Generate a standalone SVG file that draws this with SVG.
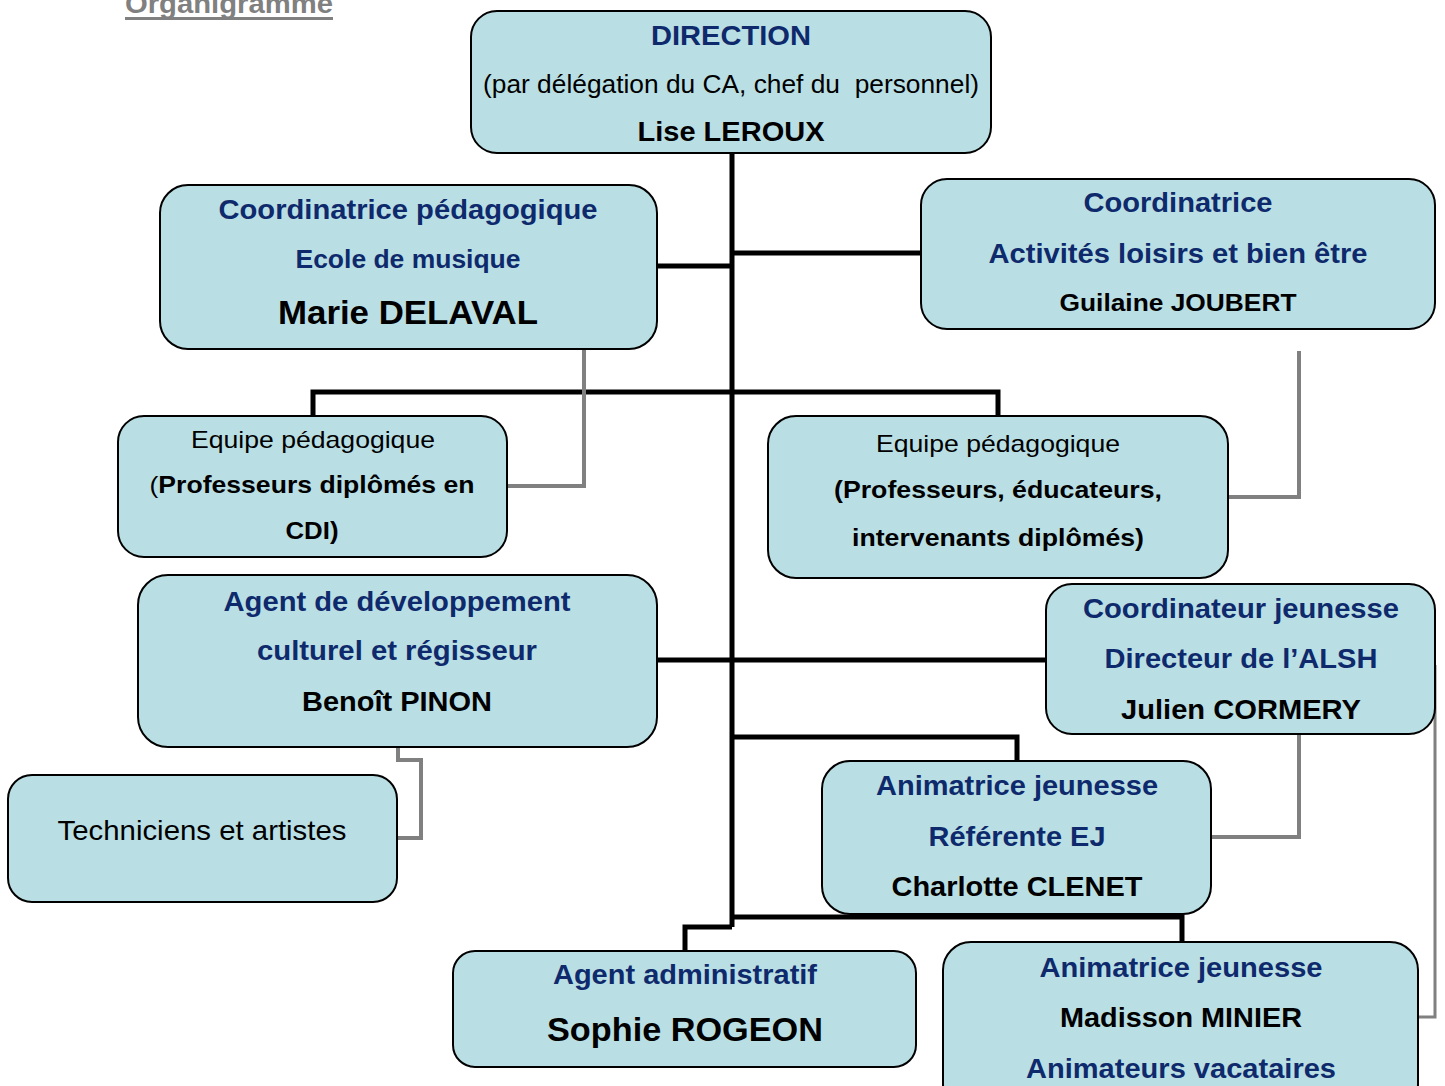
<svg xmlns="http://www.w3.org/2000/svg" width="1445" height="1086" viewBox="0 0 1445 1086">
<style>
.box{fill:#B9DFE4;stroke:#000;stroke-width:2}
text{font-family:"Liberation Sans",Arial,sans-serif;text-anchor:middle}
.nv{fill:#0E2A6C;font-weight:bold}
.bk{fill:#000;font-weight:bold}
.rg{fill:#000;font-weight:normal}
.blk{fill:none;stroke:#000;stroke-width:5}
.gry{fill:none;stroke:#808080;stroke-width:4}
.gryt{fill:none;stroke:#808080;stroke-width:3}
</style>
<rect width="1445" height="1086" fill="#fff"/>
<g id="title">
<text x="229" y="13" font-size="28" font-weight="bold" fill="#808080" textLength="208" lengthAdjust="spacingAndGlyphs">Organigramme</text>
<rect x="125" y="17" width="208" height="3" fill="#808080"/>
</g>
<g id="connectors">
<path class="blk" d="M732,153 V927"/>
<path class="blk" d="M657,266 H732"/>
<path class="blk" d="M732,253 H921"/>
<path class="blk" d="M313,416 V392 H998 V416"/>
<path class="blk" d="M657,660 H1046"/>
<path class="blk" d="M732,737 H1017 V761"/>
<path class="blk" d="M732,917 H1182 V942"/>
<path class="blk" d="M732,927 H685 V951"/>
<path class="gry" d="M584,338 V486 H507"/>
<path class="gry" d="M1299,351 V497 H1228"/>
<path class="gry" d="M398,747 V760 H421 V838 H397"/>
<path class="gry" d="M1299,727 V837 H1211"/>
<path class="gryt" d="M1435,665 V1017 H1418"/>
</g>
<g id="direction">
<rect class="box" x="471" y="11" width="520" height="142" rx="26"/>
<text class="nv" x="731" y="45" font-size="28" textLength="160" lengthAdjust="spacingAndGlyphs">DIRECTION</text>
<text class="rg" x="731" y="93" font-size="25" textLength="496" lengthAdjust="spacingAndGlyphs">(par délégation du CA, chef du&#160; personnel)</text>
<text class="bk" x="731" y="141" font-size="27" textLength="187" lengthAdjust="spacingAndGlyphs">Lise LEROUX</text>
</g>
<g id="coord-peda">
<rect class="box" x="160" y="185" width="497" height="164" rx="28"/>
<text class="nv" x="408" y="219" font-size="28" textLength="379" lengthAdjust="spacingAndGlyphs">Coordinatrice pédagogique</text>
<text class="nv" x="408" y="268" font-size="25" textLength="225" lengthAdjust="spacingAndGlyphs">Ecole de musique</text>
<text class="bk" x="408" y="324" font-size="33" textLength="260" lengthAdjust="spacingAndGlyphs">Marie DELAVAL</text>
</g>
<g id="coord-loisirs">
<rect class="box" x="921" y="179" width="514" height="150" rx="26"/>
<text class="nv" x="1178" y="212" font-size="28" textLength="189" lengthAdjust="spacingAndGlyphs">Coordinatrice</text>
<text class="nv" x="1178" y="263" font-size="28" textLength="379" lengthAdjust="spacingAndGlyphs">Activités loisirs et bien être</text>
<text class="bk" x="1178" y="311" font-size="24" textLength="237" lengthAdjust="spacingAndGlyphs">Guilaine JOUBERT</text>
</g>
<g id="equipe-gauche">
<rect class="box" x="118" y="416" width="389" height="141" rx="26"/>
<text class="rg" x="313" y="448" font-size="24" textLength="244" lengthAdjust="spacingAndGlyphs">Equipe pédagogique</text>
<text class="rg" x="312" y="493" font-size="24" textLength="325" lengthAdjust="spacingAndGlyphs">(<tspan font-weight="bold">Professeurs diplômés en</tspan></text>
<text class="bk" x="312" y="539" font-size="24" textLength="53" lengthAdjust="spacingAndGlyphs">CDI)</text>
</g>
<g id="equipe-droite">
<rect class="box" x="768" y="416" width="460" height="162" rx="28"/>
<text class="rg" x="998" y="452" font-size="24" textLength="244" lengthAdjust="spacingAndGlyphs">Equipe pédagogique</text>
<text class="bk" x="998" y="498" font-size="24" textLength="328" lengthAdjust="spacingAndGlyphs">(Professeurs, éducateurs,</text>
<text class="bk" x="998" y="546" font-size="24" textLength="292" lengthAdjust="spacingAndGlyphs">intervenants diplômés)</text>
</g>
<g id="agent-dev">
<rect class="box" x="138" y="575" width="519" height="172" rx="30"/>
<text class="nv" x="397" y="611" font-size="28" textLength="347" lengthAdjust="spacingAndGlyphs">Agent de développement</text>
<text class="nv" x="397" y="660" font-size="28" textLength="280" lengthAdjust="spacingAndGlyphs">culturel et régisseur</text>
<text class="bk" x="397" y="711" font-size="27" textLength="190" lengthAdjust="spacingAndGlyphs">Benoît PINON</text>
</g>
<g id="techniciens">
<rect class="box" x="8" y="775" width="389" height="127" rx="24"/>
<text class="rg" x="202" y="840" font-size="28" textLength="289" lengthAdjust="spacingAndGlyphs">Techniciens et artistes</text>
</g>
<g id="coord-jeunesse">
<rect class="box" x="1046" y="584" width="389" height="150" rx="26"/>
<text class="nv" x="1241" y="618" font-size="28" textLength="316" lengthAdjust="spacingAndGlyphs">Coordinateur jeunesse</text>
<text class="nv" x="1241" y="668" font-size="28" textLength="273" lengthAdjust="spacingAndGlyphs">Directeur de l’ALSH</text>
<text class="bk" x="1241" y="719" font-size="28" textLength="240" lengthAdjust="spacingAndGlyphs">Julien CORMERY</text>
</g>
<g id="animatrice-ej">
<rect class="box" x="822" y="761" width="389" height="153" rx="28"/>
<text class="nv" x="1017" y="795" font-size="28" textLength="282" lengthAdjust="spacingAndGlyphs">Animatrice jeunesse</text>
<text class="nv" x="1017" y="846" font-size="28" textLength="177" lengthAdjust="spacingAndGlyphs">Référente EJ</text>
<text class="bk" x="1017" y="896" font-size="28" textLength="251" lengthAdjust="spacingAndGlyphs">Charlotte CLENET</text>
</g>
<g id="agent-admin">
<rect class="box" x="453" y="951" width="463" height="116" rx="22"/>
<text class="nv" x="685" y="984" font-size="27" textLength="264" lengthAdjust="spacingAndGlyphs">Agent administratif</text>
<text class="bk" x="685" y="1041" font-size="33" textLength="276" lengthAdjust="spacingAndGlyphs">Sophie ROGEON</text>
</g>
<g id="animatrice-minier">
<rect class="box" x="943" y="942" width="475" height="170" rx="28"/>
<text class="nv" x="1181" y="977" font-size="28" textLength="283" lengthAdjust="spacingAndGlyphs">Animatrice jeunesse</text>
<text class="bk" x="1181" y="1027" font-size="28" textLength="242" lengthAdjust="spacingAndGlyphs">Madisson MINIER</text>
<text class="nv" x="1181" y="1078" font-size="28" textLength="310" lengthAdjust="spacingAndGlyphs">Animateurs vacataires</text>
</g>
</svg>
